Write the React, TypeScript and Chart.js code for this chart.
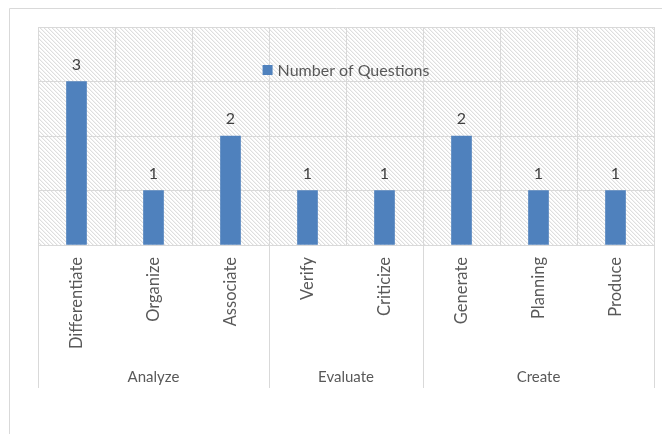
import React, { useEffect, useRef } from "react";
import { Chart, registerables } from "chart.js";
Chart.register(...registerables);

const categories = ["Differentiate", "Organize", "Associate", "Verify", "Criticize", "Generate", "Planning", "Produce"];
const questionCounts = [3, 1, 2, 1, 1, 2, 1, 1];
const groupNames = ["Analyze", "Evaluate", "Create"];
const groupSizes = [3, 2, 3];
const seriesName = "Number of Questions";
const yTicks = [0, 1, 2, 3, 4];

const FONT = "Lato, 'Open Sans', sans-serif";
const TEXT = "#595959";
const GRID = "#d9d9d9";
const BAR = "#4f81bd";

function makePattern(ctx: CanvasRenderingContext2D) {
  const c = document.createElement("canvas");
  c.width = 4;
  c.height = 4;
  const g = c.getContext("2d")!;
  g.fillStyle = "#ffffff";
  g.fillRect(0, 0, 4, 4);
  g.fillStyle = "#dedede";
  for (let i = 0; i < 4; i++) g.fillRect(i, i, 1, 1);
  g.fillStyle = "#f3f3f3";
  for (let i = 0; i < 4; i++) g.fillRect((i + 1) % 4, i, 1, 1);
  return ctx.createPattern(c, "repeat")!;
}

const decorPlugin = {
  id: "decor",
  beforeDraw(chart: any) {
    const { ctx, chartArea: a } = chart;
    ctx.save();
    ctx.fillStyle = "#ffffff";
    ctx.fillRect(0, 0, chart.width, chart.height);
    ctx.strokeStyle = GRID;
    ctx.lineWidth = 1;
    ctx.beginPath();
    ctx.moveTo(9.5, chart.height + 5);
    ctx.lineTo(9.5, 8.5);
    ctx.lineTo(chart.width + 5, 8.5);
    ctx.stroke();
    ctx.fillStyle = makePattern(ctx);
    ctx.fillRect(a.left, a.top, a.right - a.left, a.bottom - a.top);
    ctx.restore();
  },
  afterDraw(chart: any) {
    const { ctx, chartArea: a } = chart;
    const x = chart.scales.x;
    ctx.save();
    const step = x.getPixelForValue(1) - x.getPixelForValue(0);
    let idx = 0;
    const bottom = 388;
    ctx.strokeStyle = GRID;
    ctx.lineWidth = 1;
    const bounds: number[] = [x.getPixelForValue(0) - step / 2];
    groupSizes.forEach((n) => {
      idx += n;
      bounds.push(x.getPixelForValue(idx - 1) + step / 2);
    });
    ctx.beginPath();
    bounds.forEach((b) => {
      const px = Math.round(b) + 0.5;
      ctx.moveTo(px, a.bottom);
      ctx.lineTo(px, bottom);
    });
    ctx.stroke();
    ctx.fillStyle = TEXT;
    ctx.font = `15px ${FONT}`;
    ctx.textAlign = "center";
    ctx.textBaseline = "middle";
    groupNames.forEach((g, i) => {
      ctx.fillText(g, (bounds[i] + bounds[i + 1]) / 2, 377);
    });
    const meta = chart.getDatasetMeta(0);
    ctx.fillStyle = "#404040";
    ctx.font = `16px ${FONT}`;
    ctx.textBaseline = "middle";
    meta.data.forEach((bar: any, i: number) => {
      ctx.fillText(String(questionCounts[i]), bar.x, bar.y - 17);
    });
    ctx.font = `16px ${FONT}`;
    const tw = ctx.measureText(seriesName).width;
    const total = 10 + 5 + tw;
    const cx = (a.left + a.right) / 2;
    const lx = cx - total / 2;
    const ly = 70;
    ctx.fillStyle = BAR;
    ctx.fillRect(lx, ly - 5, 10, 10);
    ctx.fillStyle = TEXT;
    ctx.textAlign = "left";
    ctx.textBaseline = "middle";
    ctx.fillText(seriesName, lx + 15, ly + 1);
    ctx.restore();
  },
};

export default function App() {
  const ref = useRef<HTMLCanvasElement>(null);
  useEffect(() => {
    const chart = new Chart(ref.current!, {
      type: "bar",
      data: {
        labels: categories,
        datasets: [
          {
            label: seriesName,
            data: questionCounts,
            backgroundColor: BAR,
            barThickness: 20,
          },
        ],
      },
      options: {
        animation: false,
        responsive: false,
        maintainAspectRatio: false,
        layout: { padding: { left: 38, top: 27, right: 8, bottom: 0 } },
        plugins: { legend: { display: false }, tooltip: { enabled: false } },
        scales: {
          x: {
            grid: { color: GRID, drawTicks: false, offset: true },
            border: { color: GRID },
            ticks: {
              color: TEXT,
              font: { family: FONT, size: 16.5 },
              minRotation: 90,
              maxRotation: 90,
              padding: 12,
              autoSkip: false,
            },
            afterFit: (s: any) => {
              s.height = 434 - 245;
            },
          },
          y: {
            min: yTicks[0],
            max: yTicks[yTicks.length - 1],
            afterBuildTicks: (s: any) => {
              s.ticks = yTicks.map((v) => ({ value: v }));
            },
            grid: { color: GRID, drawTicks: false },
            border: { display: false },
            ticks: { display: false },
            afterFit: (s: any) => {
              s.width = 0;
            },
          },
        },
      },
      plugins: [decorPlugin],
    });
    return () => chart.destroy();
  }, []);
  return (
    <div style={{ position: "absolute", left: 0, top: 0, width: 662, height: 434 }}>
      <canvas ref={ref} width={662} height={434} style={{ display: "block" }} />
    </div>
  );
}
